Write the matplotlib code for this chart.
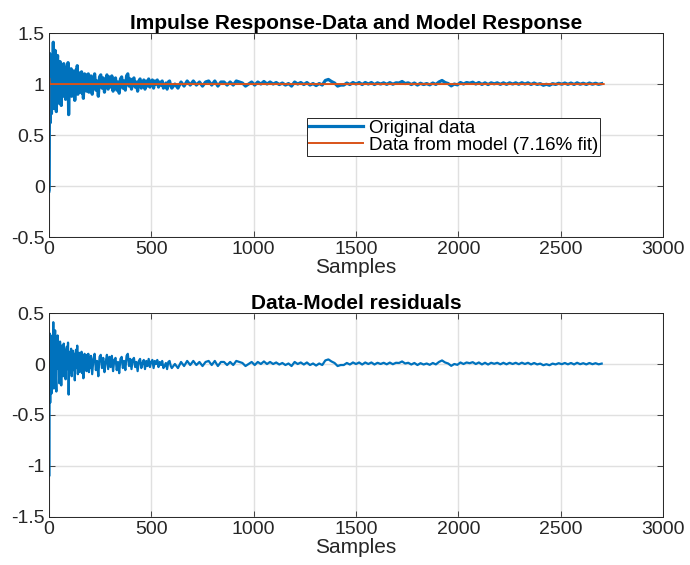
import numpy as np
import matplotlib
matplotlib.use('Agg')
import matplotlib.pyplot as plt
from matplotlib.ticker import FormatStrFormatter

plt.rcParams['font.family'] = ['Liberation Sans', 'DejaVu Sans']

# model response (step breakpoints: sample, value)
model_x = [0, 1, 3, 2710]
model_y = [0.0, 1.06, 1.0, 1.0]

# residuals (data - model)
head_x = [0, 1, 2]
head_res = [-0.05, -1.10, -0.40]

# samples 3..201, every 3 samples
early_res = [0.30, -0.38, 0.28, -0.29, 0.10, -0.15, 0.41, -0.24, 0.15, 0.33,
             -0.10, -0.27, 0.20, 0.28, -0.05, 0.12, -0.19, 0.22, 0.05, -0.21,
             0.18, 0.10, -0.12, 0.20, -0.08, 0.14, -0.15, 0.09, 0.17, -0.05,
             0.21, -0.30, 0.05, 0.12, -0.08, 0.15, -0.12, 0.06, 0.13, -0.06,
             0.10, -0.16, 0.08, 0.14, -0.04, 0.18, -0.10, 0.05, 0.11, -0.08,
             0.09, -0.05, 0.12, -0.09, 0.07, -0.14, 0.06, 0.10, -0.05, 0.08,
             -0.07, 0.09, -0.03, 0.10, -0.08, 0.06, -0.04]

# samples 205..595, every 6 samples
mid_res = [0.08, -0.10, 0.05, 0.10, -0.06, 0.03, -0.12, 0.07, 0.09, -0.04,
           0.06, -0.08, 0.02, 0.09, -0.05, 0.07, -0.03, 0.08, -0.07, 0.04,
           0.06, -0.06, 0.02, -0.09, 0.05, 0.07, -0.04, 0.03, -0.06, 0.08,
           0.10, -0.02, 0.05, -0.05, 0.04, 0.06, -0.03, 0.02, -0.07, 0.03,
           0.05, -0.04, 0.01, 0.04, -0.05, 0.03, -0.02, 0.05, -0.03, 0.02,
           0.04, -0.04, 0.03, 0.00, 0.04, -0.03, 0.02, -0.01, 0.03, -0.04,
           -0.02, 0.01, -0.05, 0.02, 0.03, -0.02]

# samples 600..2700, every 15 samples
late_res = [-0.04, 0.00, -0.04, 0.02, -0.02, 0.03, -0.01, 0.03, -0.01, 0.02,
            -0.02, 0.02, 0.03, -0.01, 0.03, -0.02, 0.02, 0.02, -0.01, 0.02,
            -0.01, 0.03, 0.02, 0.01, -0.02, 0.00, 0.02, -0.01, 0.02, 0.00,
            0.025, 0.00, 0.02, 0.00, 0.015, -0.005, 0.01, -0.01, 0.005, -0.02,
            0.02, 0.00, 0.015, -0.005, 0.015, -0.01, 0.005, -0.015, 0.005, -0.01,
            0.035, 0.045, 0.025, 0.01, -0.02, -0.01, -0.01, 0.01, -0.005, 0.015,
            0.00, 0.015, -0.005, 0.015, 0.00, 0.015, -0.005, 0.012, 0.00, 0.012,
            -0.003, 0.014, -0.002, 0.012, 0.01, 0.025, 0.005, 0.012, -0.005, 0.01,
            -0.01, 0.008, -0.005, 0.005, -0.008, 0.01, -0.004, 0.02, 0.035, 0.015,
            0.005, -0.018, 0.00, -0.008, 0.015, 0.00, 0.015, 0.008, 0.018, 0.00,
            0.015, -0.004, 0.012, -0.005, 0.012, 0.002, 0.012, -0.003, 0.012, -0.003,
            0.012, 0.00, 0.012, -0.002, 0.013, 0.00, 0.012, -0.004, 0.01, -0.004,
            0.004, -0.012, -0.002, -0.012, 0.004, -0.004, 0.008, -0.002, 0.01, -0.003,
            0.01, -0.004, 0.012, -0.002, 0.008, -0.004, 0.01, -0.002, 0.008, -0.003, 0.004]

xticks = [0, 500, 1000, 1500, 2000, 2500, 3000]

samples = np.concatenate([head_x,
                          3 + 3 * np.arange(len(early_res)),
                          205 + 6 * np.arange(len(mid_res)),
                          600 + 15 * np.arange(len(late_res))])
resid = np.concatenate([head_res, early_res, mid_res, late_res])
model_at = np.interp(samples, model_x, model_y)
data = model_at + resid

blue = '#0072BD'
orange = '#D95319'

fig = plt.figure(figsize=(6.9, 5.65), dpi=100)
ax1 = fig.add_axes([0.071, 0.5805, 0.89, 0.361])
ax2 = fig.add_axes([0.071, 0.085, 0.89, 0.361])


def style(ax, ylim, yticks):
    ax.set_xlim(0, 3000)
    ax.set_ylim(*ylim)
    ax.set_xticks(xticks)
    ax.set_yticks(yticks)
    ax.yaxis.set_major_formatter(FormatStrFormatter('%g'))
    ax.grid(True, color='#e0e0e0', linewidth=1.0)
    ax.set_axisbelow(True)
    ax.tick_params(direction='in', top=True, right=True, length=4,
                   labelsize=14, colors='#262626', width=0.6, pad=3)
    for s in ax.spines.values():
        s.set_color('#262626')
        s.set_linewidth(0.7)
    ax.set_xlabel('Samples', fontsize=15, color='#262626', labelpad=0)


ax1.plot(samples, data, color=blue, linewidth=2.3, label='Original data')
ax1.plot(model_x, model_y, color=orange, linewidth=1.4, label='Data from model (7.16% fit)')
style(ax1, (-0.5, 1.5), [-0.5, 0, 0.5, 1, 1.5])
ax1.set_title('Impulse Response-Data and Model Response', fontsize=15,
              fontweight='bold', pad=3)
leg = ax1.legend(loc='upper left', bbox_to_anchor=(0.42, 0.585), fontsize=13.5,
                 fancybox=False, framealpha=1, edgecolor='#262626',
                 handlelength=2.9, borderpad=0.1, labelspacing=0.0,
                 handletextpad=0.3, borderaxespad=0)
leg.get_frame().set_linewidth(0.7)

ax2.plot(samples, resid, color=blue, linewidth=1.6)
style(ax2, (-1.5, 0.5), [-1.5, -1, -0.5, 0, 0.5])
ax2.set_title('Data-Model residuals', fontsize=15, fontweight='bold', pad=3)

fig.savefig('out.png', dpi=100)
